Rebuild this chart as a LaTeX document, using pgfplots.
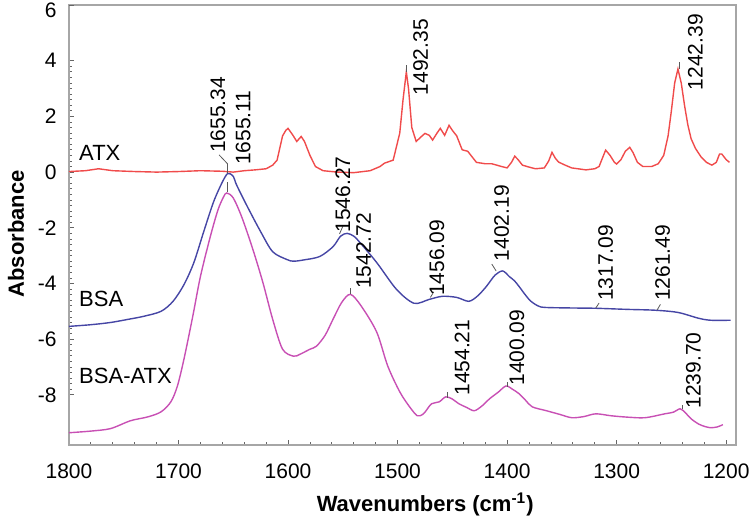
\documentclass[border=0pt]{standalone}
\usepackage{fontspec}
\setmainfont{Liberation Sans}
\usepackage{pgfplots}
\pgfplotsset{compat=1.18}
\definecolor{atx}{RGB}{240,75,75}
\definecolor{bsa}{RGB}{70,70,165}
\definecolor{bsaatx}{RGB}{200,80,180}
\tikzset{
  peak/.style={rotate=90, anchor=west, inner sep=0pt, font=\fontsize{10.5}{12}\selectfont},
  lead/.style={gray!70!black, line width=0.4pt},
}
\begin{document}
\begin{tikzpicture}
\useasboundingbox (-34.5pt,-38pt) rectangle (340.5pt,222.5pt);
\begin{axis}[
  at={(0,0)}, anchor=south west,
  scale only axis, width=333.5pt, height=220pt,
  x dir=reverse, xmin=1191, xmax=1800, ymin=-9.8, ymax=6,
  xtick={1200,1300,...,1800}, minor x tick num=4,
  ytick={-8,-6,...,4}, minor y tick num=9,
  extra y ticks={6},
  extra y tick style={yticklabel style={yshift=-2.5pt}},
  tick pos=left, tick align=inside,
  major tick length=2.5pt, minor tick length=1.5pt,
  every tick/.style={gray!80!black, line width=0.4pt},
  axis line style={gray!70, line width=0.8pt},
  /pgf/number format/assume math mode=true,
  /pgf/number format/1000 sep={},
  ticklabel style={font=\fontsize{10.5}{12}\selectfont},
  xticklabel style={inner sep=0pt, yshift=-9pt, anchor=north},
  yticklabel style={inner sep=0pt, xshift=-6pt, anchor=east},
  xlabel={\textbf{Wavenumbers (cm\textsuperscript{-1})}},
  ylabel={\textbf{Absorbance}},
  label style={font=\fontsize{11}{13}\selectfont},
  xlabel style={at={(axis description cs:0.534,-0.136)}, anchor=center},
  ylabel style={at={(axis description cs:-0.0795,0.48)}, anchor=center},
  clip=false,
]
% ATX
\addplot[atx, line width=0.7pt] coordinates {
(1800,0.02)(1785,0.05)(1773,0.12)(1760,0.05)(1740,0.02)(1720,0.0)(1700,0.02)
(1680,0.05)(1660,0.03)(1650,0.0)(1640,0.05)(1630,0.08)(1620,0.12)(1614,0.25)
(1610,0.43)(1605,1.3)(1602,1.5)(1600,1.57)(1596,1.35)(1592,1.1)(1588,1.28)
(1585,1.1)(1580,0.6)(1575,0.2)(1568,0.05)(1555,0.0)(1540,-0.02)(1525,0.05)
(1516,0.2)(1512,0.32)(1504,0.43)(1498,1.4)(1495,2.6)(1492,3.6)(1490,3.0)
(1487,1.6)(1483,1.1)(1479,1.25)(1475,1.39)(1471,1.32)(1468,1.15)(1464,1.4)
(1461,1.57)(1457,1.32)(1453,1.68)(1450,1.5)(1446,1.3)(1441,0.8)(1436,0.75)
(1432,0.55)(1428,0.35)(1420,0.3)(1414,0.3)(1405,0.2)(1400,0.15)(1396,0.35)
(1393,0.57)(1390,0.45)(1386,0.25)(1380,0.18)(1374,0.12)(1366,0.15)(1362,0.4)
(1359,0.71)(1356,0.5)(1353,0.36)(1347,0.25)(1341,0.15)(1328,0.08)(1320,0.12)
(1316,0.2)(1313,0.5)(1310,0.79)(1306,0.6)(1302,0.35)(1300,0.29)(1296,0.45)
(1292,0.75)(1288,0.89)(1285,0.7)(1281,0.35)(1276,0.2)(1268,0.2)(1262,0.3)
(1257,0.6)(1253,1.3)(1250,2.2)(1247,3.2)(1244,3.7)(1241,3.2)(1238,2.4)
(1235,1.7)(1232,1.2)(1228,0.85)(1223,0.55)(1218,0.35)(1213,0.25)(1209,0.35)
(1206,0.65)(1204,0.65)(1200,0.45)(1197,0.35)
};
% BSA
\addplot[bsa, line width=0.7pt, smooth] coordinates {
(1800,-5.54)(1780,-5.48)(1762,-5.4)(1745,-5.28)(1732,-5.18)(1716,-5.0)
(1705,-4.64)(1695,-4.04)(1686,-3.25)(1677,-2.14)(1668,-1.07)(1660,-0.36)
(1655,-0.05)(1650,-0.15)(1647,-0.46)(1637,-1.25)(1625,-2.14)(1614,-2.86)
(1601,-3.14)(1595,-3.2)(1585,-3.15)(1571,-3.03)(1559,-2.68)(1552,-2.3)
(1546,-2.2)(1540,-2.3)(1535,-2.5)(1519,-3.25)(1501,-4.21)(1485,-4.71)
(1471,-4.57)(1459,-4.46)(1446,-4.5)(1435,-4.64)(1427,-4.45)(1419,-4.11)
(1411,-3.7)(1404,-3.55)(1398,-3.75)(1392,-3.96)(1380,-4.57)(1372,-4.8)
(1365,-4.86)(1340,-4.88)(1319,-4.89)(1290,-4.93)(1265,-4.96)(1244,-5.04)
(1225,-5.25)(1214,-5.32)(1196,-5.32)
};
% BSA-ATX
\addplot[bsaatx, line width=0.7pt, smooth] coordinates {
(1800,-9.36)(1780,-9.3)(1762,-9.21)(1744,-8.93)(1728,-8.79)(1716,-8.61)
(1707,-8.25)(1701,-7.68)(1695,-6.71)(1687,-5.18)(1680,-3.75)(1671,-2.32)
(1664,-1.36)(1659,-0.9)(1656,-0.75)(1650,-0.93)(1642,-1.64)(1632,-2.79)
(1623,-3.96)(1614,-5.29)(1605,-6.36)(1595,-6.61)(1589,-6.54)(1580,-6.36)
(1574,-6.25)(1566,-5.85)(1559,-5.29)(1551,-4.68)(1543,-4.39)(1533,-4.82)
(1519,-5.75)(1509,-6.96)(1498,-7.89)(1489,-8.43)(1482,-8.75)(1477,-8.7)
(1474,-8.57)(1469,-8.32)(1462,-8.25)(1456,-8.07)(1450,-8.15)(1444,-8.32)
(1437,-8.45)(1430,-8.57)(1423,-8.4)(1416,-8.14)(1408,-7.9)(1401,-7.68)
(1395,-7.8)(1389,-7.96)(1383,-8.2)(1377,-8.43)(1364,-8.57)(1352,-8.7)
(1341,-8.82)(1330,-8.78)(1319,-8.68)(1305,-8.75)(1290,-8.8)(1274,-8.82)
(1256,-8.68)(1248,-8.62)(1242,-8.5)(1237,-8.65)(1232,-8.86)(1225,-9.05)
(1219,-9.14)(1214,-9.18)(1208,-9.15)(1203,-9.07)
};
% curve names
\node[anchor=west, inner sep=0pt, font=\fontsize{11}{13}\selectfont] at (axis cs:1791,0.68) {ATX};
\node[anchor=west, inner sep=0pt, font=\fontsize{11}{13}\selectfont] at (axis cs:1791,-4.57) {BSA};
\node[anchor=west, inner sep=0pt, font=\fontsize{11}{13}\selectfont] at (axis cs:1791,-7.32) {BSA-ATX};
% leader lines
\draw[lead] (axis cs:1655.3,-0.05) -- (axis cs:1655.3,0.3) -- (axis cs:1663,0.62);
\draw[lead] (axis cs:1655.1,-0.72) -- (axis cs:1655.1,-0.36);
\draw[lead] (axis cs:1492.35,3.6) -- (axis cs:1492.35,3.85);
\draw[lead] (axis cs:1242.39,3.7) -- (axis cs:1242.39,3.95);
\draw[lead] (axis cs:1553,-2.22) -- (axis cs:1550,-1.95);
\draw[lead] (axis cs:1542.72,-4.39) -- (axis cs:1542.72,-4.15);
\draw[lead] (axis cs:1470,-4.5) -- (axis cs:1467,-4.3);
\draw[lead] (axis cs:1410,-3.55) -- (axis cs:1414,-3.3);
\draw[lead] (axis cs:1319,-4.88) -- (axis cs:1316,-4.7);
\draw[lead] (axis cs:1263,-4.95) -- (axis cs:1260,-4.75);
\draw[lead] (axis cs:1454.21,-8.1) -- (axis cs:1454.21,-7.9);
\draw[lead] (axis cs:1400.09,-7.7) -- (axis cs:1400.09,-7.55);
\draw[lead] (axis cs:1239.7,-8.5) -- (axis cs:1239.7,-8.35);
% peak labels
\node[peak] at (axis cs:1664,0.68) {1655.34};
\node[peak] at (axis cs:1641,0.25) {1655.11};
\node[peak] at (axis cs:1479,2.75) {1492.35};
\node[peak] at (axis cs:1228,2.93) {1242.39};
\node[peak] at (axis cs:1550,-2.18) {1546.27};
\node[peak] at (axis cs:1531,-4.21) {1542.72};
\node[peak] at (axis cs:1464,-4.46) {1456.09};
\node[peak] at (axis cs:1405,-3.21) {1402.19};
\node[peak] at (axis cs:1310,-4.64) {1317.09};
\node[peak] at (axis cs:1258,-4.64) {1261.49};
\node[peak] at (axis cs:1441,-8.04) {1454.21};
\node[peak] at (axis cs:1391,-7.68) {1400.09};
\node[peak] at (axis cs:1230,-8.5) {1239.70};
\end{axis}
\end{tikzpicture}
\end{document}
